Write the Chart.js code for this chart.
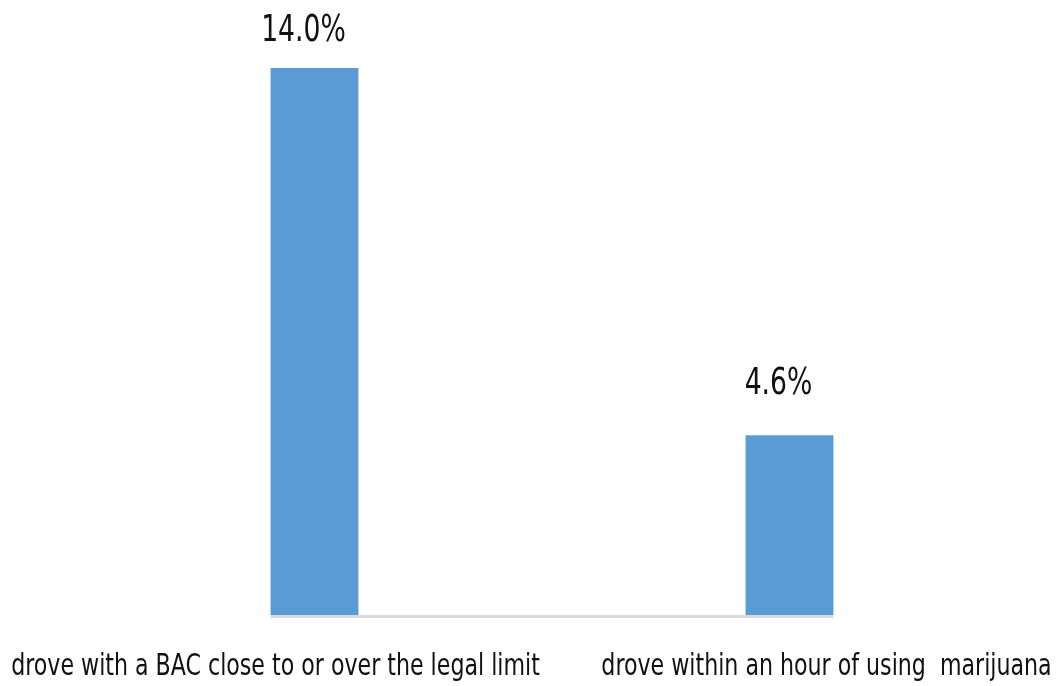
<!DOCTYPE html>
<html>
<head>
<meta charset="utf-8">
<script src="https://cdn.jsdelivr.net/npm/chart.js@4"></script>
<style>
  html, body { margin: 0; padding: 0; background: #fff; }
</style>
</head>
<body>
<canvas id="myChart" width="1057" height="686"></canvas>
<script>
const labels = [
  'drove with a BAC close to or over the legal limit',
  'drove within an hour of using  marijuana'
];
const values = [14.0, 4.6];
const valueLabels = ['14.0%', '4.6%'];

const FONT = '"DejaVu Sans Condensed", "DejaVu Sans", sans-serif';

// draws condensed text centred at cx
function narrowText(ctx, txt, cx, y, squeeze) {
  ctx.save();
  ctx.translate(cx, y);
  ctx.scale(squeeze, 1);
  ctx.fillText(txt, 0, 0);
  ctx.restore();
}

// baseline, value labels and category labels
const decor = {
  id: 'decor',
  afterDatasetsDraw(chart) {
    const ctx = chart.ctx;
    const bars = chart.getDatasetMeta(0).data;
    const x = chart.scales.x;
    const bottom = chart.chartArea.bottom;
    ctx.save();

    // axis line from first bar to last bar
    const first = bars[0], last = bars[bars.length - 1];
    ctx.strokeStyle = '#d9d9d9';
    ctx.lineWidth = 3;
    ctx.beginPath();
    ctx.moveTo(first.x - first.width / 2, bottom + 1.5);
    ctx.lineTo(last.x + last.width / 2, bottom + 1.5);
    ctx.stroke();

    ctx.fillStyle = '#111';
    ctx.textAlign = 'center';
    ctx.textBaseline = 'alphabetic';
    ctx.font = '38px ' + FONT;
    const lift = [27, 41];
    bars.forEach((b, i) => {
      narrowText(ctx, valueLabels[i], b.x - 11, b.y - lift[i], 0.78);
    });

    ctx.font = '30px ' + FONT;
    const shift = [-39, 37];
    labels.forEach((l, i) => {
      narrowText(ctx, l, x.getPixelForValue(i) + shift[i], bottom + 60, 0.82);
    });
    ctx.restore();
  }
};

const data = {
  labels: labels,
  datasets: [{
    data: values,
    backgroundColor: '#5b9bd5',
    borderWidth: 0,
    categoryPercentage: 1,
    barPercentage: 0.185
  }]
};

const config = {
  type: 'bar',
  data: data,
  options: {
    responsive: false,
    animation: false,
    layout: { padding: { left: 77, right: 30, top: 29, bottom: 71 } },
    plugins: {
      legend: { display: false },
      tooltip: { enabled: false }
    },
    scales: {
      x: { display: false },
      y: { display: false, min: 0, max: 15 }
    }
  },
  plugins: [decor]
};

const myChart = new Chart(document.getElementById('myChart'), config);
</script>
</body>
</html>
